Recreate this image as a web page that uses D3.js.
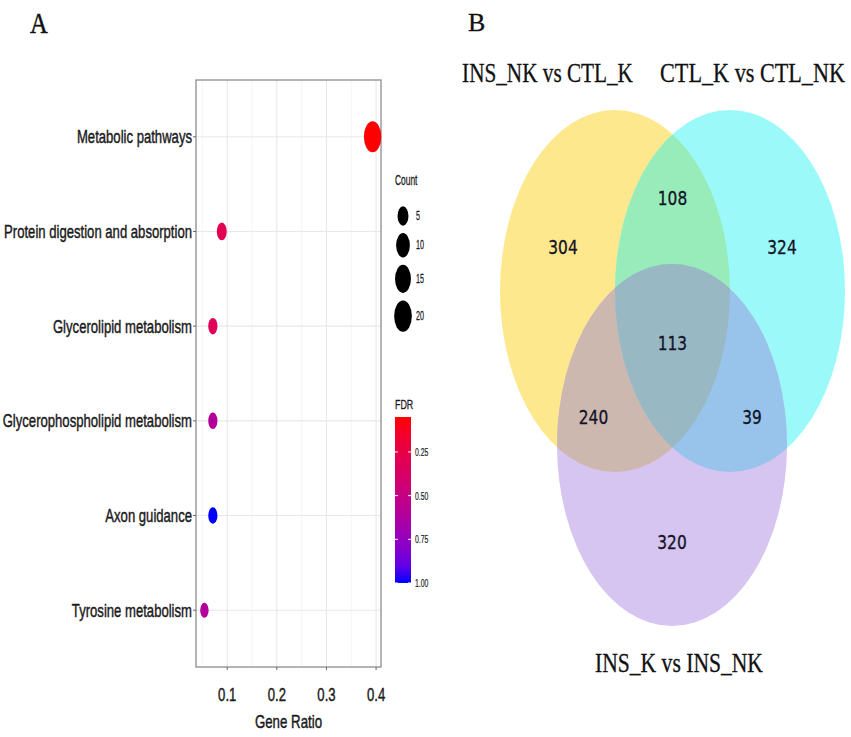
<!DOCTYPE html>
<html><head><meta charset="utf-8">
<script src="https://cdn.jsdelivr.net/npm/d3@7"></script>
<style>body{margin:0;background:#fff}svg{display:block}</style></head>
<body><svg id="c" width="851" height="737"></svg>
<script>
// ---------------- data ----------------
const pathways = ["Metabolic pathways","Protein digestion and absorption","Glycerolipid metabolism","Glycerophospholipid metabolism","Axon guidance","Tyrosine metabolism"];
const geneRatio = [0.393, 0.089, 0.071, 0.071, 0.071, 0.054];
const geneCount = [22, 5, 4, 4, 4, 3];
const fdr = [0.05, 0.30, 0.32, 0.60, 1.00, 0.60];
const xTicks = [0.1, 0.2, 0.3, 0.4];
const countBreaks = [5, 10, 15, 20];
const fdrBreaks = [0.25, 0.50, 0.75, 1.00];
const vennSets = ["INS_NK vs CTL_K", "CTL_K vs CTL_NK", "INS_K vs INS_NK"];
const vennRegions = ["A", "B", "C", "AB", "AC", "BC", "ABC"];
const vennCounts = [304, 324, 320, 108, 240, 39, 113];

// ---------------- helpers ----------------
const svg = d3.select("#c");
function txt(g, s, x, y, o) {
  const t = g.append("text")
    .attr("transform", `translate(${x},${y}) scale(${o.sx || 1},1)`)
    .attr("font-family", o.family || "'Liberation Sans', Arial, sans-serif")
    .attr("font-size", o.size)
    .attr("text-anchor", o.anchor || "start")
    .attr("fill", o.fill || "#1a1a1a")
    .text(s);
  if (o.stroke) t.attr("stroke", o.fill || "#1a1a1a").attr("stroke-width", o.stroke);
  if (o.dy) t.attr("dy", o.dy);
  if (o.width) {
    const w = t.node().getComputedTextLength();
    t.attr("transform", `translate(${x},${y}) scale(${o.width / w},1)`);
  }
  return t;
}

// ---------------- panel A ----------------
const A = svg.append("g");
const P = {l: 196, r: 381, t: 80, b: 667};
const ext = d3.extent(geneRatio), pad = (ext[1] - ext[0]) * 0.05;
const x = d3.scaleLinear().domain([ext[0] - pad, ext[1] + pad]).range([P.l, P.r]);
const y = d3.scalePoint().domain(pathways).range([P.t, P.b]).padding(0.6);
const fdrExt = d3.extent(fdr);
const colorT = d3.scaleLinear().domain(fdrExt).range([0, 1]);
const interp = d3.interpolateLab("#ff0000", "#0000ff");
const color = v => interp(colorT(v));
const ry = d3.scaleLinear().domain(d3.extent(geneCount).map(Math.sqrt)).range([7.5, 15.5]);
const rY = c => ry(Math.sqrt(c));
const aspect = 0.56;

// grid
const minor = d3.range(xTicks.length + 1).map(i => (xTicks[0] - 0.05) + i * 0.1).filter(v => x(v) > P.l && x(v) < P.r);
A.selectAll(".mnr").data(minor).join("line")
  .attr("x1", d => x(d)).attr("x2", d => x(d)).attr("y1", P.t).attr("y2", P.b)
  .attr("stroke", "#f3f3f3").attr("stroke-width", 0.8);
A.selectAll(".mjx").data(xTicks).join("line")
  .attr("x1", d => x(d)).attr("x2", d => x(d)).attr("y1", P.t).attr("y2", P.b)
  .attr("stroke", "#e8e8e8").attr("stroke-width", 1.1);
A.selectAll(".mjy").data(pathways).join("line")
  .attr("x1", P.l).attr("x2", P.r).attr("y1", d => y(d)).attr("y2", d => y(d))
  .attr("stroke", "#e8e8e8").attr("stroke-width", 1.1);
A.append("rect").attr("x", P.l).attr("y", P.t).attr("width", P.r - P.l).attr("height", P.b - P.t)
  .attr("fill", "none").attr("stroke", "#959595").attr("stroke-width", 1.4);

// ticks
A.selectAll(".ty").data(pathways).join("line")
  .attr("x1", P.l - 3).attr("x2", P.l).attr("y1", d => y(d)).attr("y2", d => y(d))
  .attr("stroke", "#666").attr("stroke-width", 1);
A.selectAll(".tx").data(xTicks).join("line")
  .attr("x1", d => x(d)).attr("x2", d => x(d)).attr("y1", P.b).attr("y2", P.b + 3)
  .attr("stroke", "#666").attr("stroke-width", 1);
pathways.forEach(p => txt(A, p, P.l - 4, y(p), {size: 19, sx: 0.69, anchor: "end", dy: "0.35em", stroke: 0.45}));
xTicks.forEach(v => txt(A, d3.format(".1f")(v), x(v), 701, {size: 19, sx: 0.69, anchor: "middle", stroke: 0.45}));
txt(A, "Gene Ratio", (P.l + P.r) / 2, 728, {size: 19, sx: 0.7, anchor: "middle", stroke: 0.45});

// points
const pts = pathways.map((p, i) => ({p, r: geneRatio[i], c: geneCount[i], f: fdr[i]}));
A.selectAll(".pt").data(pts).join("ellipse")
  .attr("cx", d => x(d.r)).attr("cy", d => y(d.p))
  .attr("rx", d => rY(d.c) * aspect).attr("ry", d => rY(d.c))
  .attr("fill", d => color(d.f));

// legend: Count
const LX = 395;
txt(A, "Count", LX, 185, {size: 14, sx: 0.6, stroke: 0.3});
let ly = 216, prev = null;
countBreaks.forEach(c => {
  if (prev !== null) ly += rY(prev) + rY(c) + 9;
  A.append("ellipse").attr("cx", 403).attr("cy", ly).attr("rx", rY(c) * aspect + 0.5).attr("ry", rY(c) + 0.8).attr("fill", "#000");
  txt(A, String(c), 416, ly, {size: 12, sx: 0.6, dy: "0.35em", stroke: 0.25});
  prev = c;
});

// legend: FDR colorbar
txt(A, "FDR", LX, 409, {size: 13.5, sx: 0.66, stroke: 0.3});
const cb = {x: 395, w: 16, t: 417, b: 583};
const cy = d3.scaleLinear().domain(fdrExt).range([cb.t, cb.b]);
const defs = svg.append("defs");
const grad = defs.append("linearGradient").attr("id", "fdrgrad").attr("x1", 0).attr("x2", 0).attr("y1", 0).attr("y2", 1);
d3.range(0, 1.0001, 0.1).forEach(t => grad.append("stop").attr("offset", t).attr("stop-color", interp(t)));
A.append("rect").attr("x", cb.x).attr("y", cb.t).attr("width", cb.w).attr("height", cb.b - cb.t).attr("fill", "url(#fdrgrad)");
fdrBreaks.filter(v => v >= fdrExt[0] && v <= fdrExt[1]).forEach(v => {
  A.append("line").attr("x1", cb.x).attr("x2", cb.x + 3).attr("y1", cy(v)).attr("y2", cy(v)).attr("stroke", "#fff").attr("stroke-width", 1);
  A.append("line").attr("x1", cb.x + cb.w - 3).attr("x2", cb.x + cb.w).attr("y1", cy(v)).attr("y2", cy(v)).attr("stroke", "#fff").attr("stroke-width", 1);
  txt(A, d3.format(".2f")(v), 415, cy(v), {size: 11.5, sx: 0.6, dy: "0.35em", stroke: 0.2});
});

txt(svg, "A", 30, 33, {size: 30, sx: 0.82, family: "'Liberation Serif', 'Times New Roman', serif", fill: "#111", stroke: 0.5});

// ---------------- panel B: Venn ----------------
const B = svg.append("g");
const E = {rx: 115, ry: 181};
const cent = {A: [615, 291], B: [730, 291], C: [672, 445]};
const fills = {A: "#fde88e", B: "#9cf9f9", C: "#d5c5f0", AB: "#98ecba", AC: "#cdb8b0", BC: "#98c4ec", ABC: "#98b9c4"};
["A", "B", "C"].forEach(k => {
  defs.append("clipPath").attr("id", "clip" + k).append("ellipse")
    .attr("cx", cent[k][0]).attr("cy", cent[k][1]).attr("rx", E.rx).attr("ry", E.ry);
});
function ell(g, k, fill, clip) {
  return g.append("ellipse").attr("cx", cent[k][0]).attr("cy", cent[k][1]).attr("rx", E.rx).attr("ry", E.ry)
    .attr("fill", fill).attr("clip-path", clip ? `url(#clip${clip})` : null);
}
ell(B, "A", fills.A);
ell(B, "B", fills.B);
ell(B, "B", fills.AB, "A");
ell(B, "C", fills.C);
ell(B, "C", fills.AC, "A");
ell(B, "C", fills.BC, "B");
ell(B.append("g").attr("clip-path", "url(#clipA)"), "C", fills.ABC, "B");

const mid = (p, q) => [(p[0] + q[0]) / 2, (p[1] + q[1]) / 2];
const labelPos = {
  A: [cent.A[0] - 52, cent.A[1] - 44],
  B: [cent.B[0] + 52, cent.B[1] - 44],
  C: [cent.C[0], cent.C[1] + 97],
  AB: [mid(cent.A, cent.B)[0], mid(cent.A, cent.B)[1] - 93],
  AC: [mid(cent.A, cent.C)[0] - 50, mid(cent.A, cent.C)[1] + 49],
  BC: [mid(cent.B, cent.C)[0] + 51, mid(cent.B, cent.C)[1] + 49],
  ABC: [(cent.A[0] + cent.B[0] + cent.C[0]) / 3, (cent.A[1] + cent.B[1] + cent.C[1]) / 3]
};
vennRegions.forEach((r, i) => txt(B, String(vennCounts[i]), labelPos[r][0], labelPos[r][1],
  {size: 20, sx: 0.77, anchor: "middle", dy: "0.36em", family: "'DejaVu Sans', sans-serif", fill: "#141428", stroke: 0.35}));

const serif = "'Liberation Serif', 'Times New Roman', serif";
txt(B, vennSets[0], 547.5, 82, {size: 27, width: 171, anchor: "middle", family: serif, fill: "#111", stroke: 0.3});
txt(B, vennSets[1], 752.5, 82, {size: 27, width: 185, anchor: "middle", family: serif, fill: "#111", stroke: 0.3});
txt(B, vennSets[2], 679, 672, {size: 27, width: 168, anchor: "middle", family: serif, fill: "#111", stroke: 0.3});
txt(svg, "B", 468, 31, {size: 26, family: serif, fill: "#111", stroke: 0.3});
</script></body></html>
